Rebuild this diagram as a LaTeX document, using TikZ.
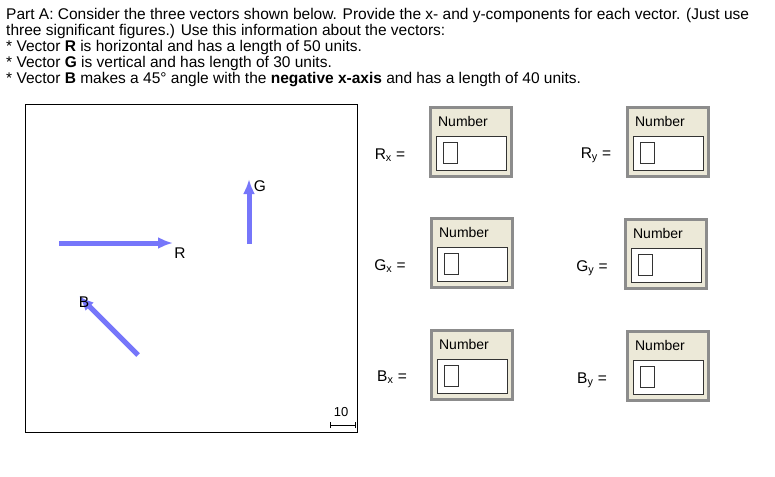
\documentclass[tikz,border=0pt]{standalone}
\usepackage{fontspec}
\setmainfont{Liberation Sans}
\usetikzlibrary{arrows.meta}
\definecolor{vec}{RGB}{118,118,250}
\definecolor{beige}{RGB}{236,233,216}
\definecolor{frm}{RGB}{140,140,140}
\begin{document}
\begin{tikzpicture}[x=1pt,y=-1pt,
  txt/.style={font=\fontsize{15.5}{16}\selectfont,anchor=base west,inner sep=0},
  lbl/.style={font=\fontsize{15.5}{16}\selectfont,inner sep=0},
  vecline/.style={draw=vec,line width=5pt,-{Latex[length=15pt,width=12pt]}},
  widget/.style={draw=frm,line width=3.5pt,fill=beige,minimum width=81pt,minimum height=69pt,inner sep=0}]
\useasboundingbox (0,0) rectangle (775,476);
\node[txt] (l1) at (6,20) {Part A: Consider the three vectors shown below. Provide the x- and y-components for each vector. (Just use};
\node[txt] (l2) at (6,36) {three significant figures.) Use this information about the vectors:};
\node[txt] (l3) at (6,52) {* Vector \textbf{R} is horizontal and has a length of 50 units.};
\node[txt] (l4) at (6,68) {* Vector \textbf{G} is vertical and has length of 30 units.};
\node[txt] (l5) at (6,84) {* Vector \textbf{B} makes a 45° angle with the \textbf{negative x-axis} and has a length of 40 units.};
\node[draw=black,line width=1pt,minimum width=332pt,minimum height=328pt,anchor=north west,inner sep=0] (frame) at (25,104) {};
\coordinate (r0) at (59,243); \coordinate (r1) at (173,243);
\coordinate (g0) at (249,244); \coordinate (g1) at (249,179);
\coordinate (b0) at (138,355); \coordinate (b1) at (79,296);
\draw[vecline] (r0) -- (r1);
\draw[vecline] (g0) -- (g1);
\draw[vecline] (b0) -- (b1);
\node[lbl] (R) at (180,253) {R};
\node[lbl] (G) at (260,186) {G};
\node[lbl] (B) at (84,302) {B};
\node[lbl,font=\fontsize{13}{14}\selectfont] (ten) at (341,412) {10};
\coordinate (s0) at (330,425); \coordinate (s1) at (355,425);
\draw[line width=0.8pt] (s0) -- (s1);
\draw[line width=0.8pt] ([yshift=-3pt]s0) -- ([yshift=3pt]s0);
\draw[line width=0.8pt] ([yshift=-3pt]s1) -- ([yshift=3pt]s1);
\foreach \n/\cx/\cy/\lx/\ly/\v/\s in {rx/471/142/390/155/R/x, ry/668/142/596/155/R/y, gx/472/253/390/266/G/x, gy/666/254/592/268/G/y, bx/472/365/392/377/B/x, by/668/366/592/380/B/y}{
  \node[widget] (w\n) at (\cx,\cy) {};
  \node[lbl,font=\fontsize{14}{15}\selectfont] (t\n) at (\cx-8,\cy-21) {Number};
  \node[draw=black!80,fill=white,line width=0.6pt,minimum width=70pt,minimum height=34pt,inner sep=0] (i\n) at (\cx,\cy+11) {};
  \node[draw=black!80,line width=0.6pt,minimum width=14pt,minimum height=21pt,inner sep=0] (c\n) at (\cx-21,\cy+11) {};
  \node[lbl] (e\n) at (\lx,\ly) {\v$_{\mathrm{\s}}$ =};
}
\end{tikzpicture}
\end{document}
